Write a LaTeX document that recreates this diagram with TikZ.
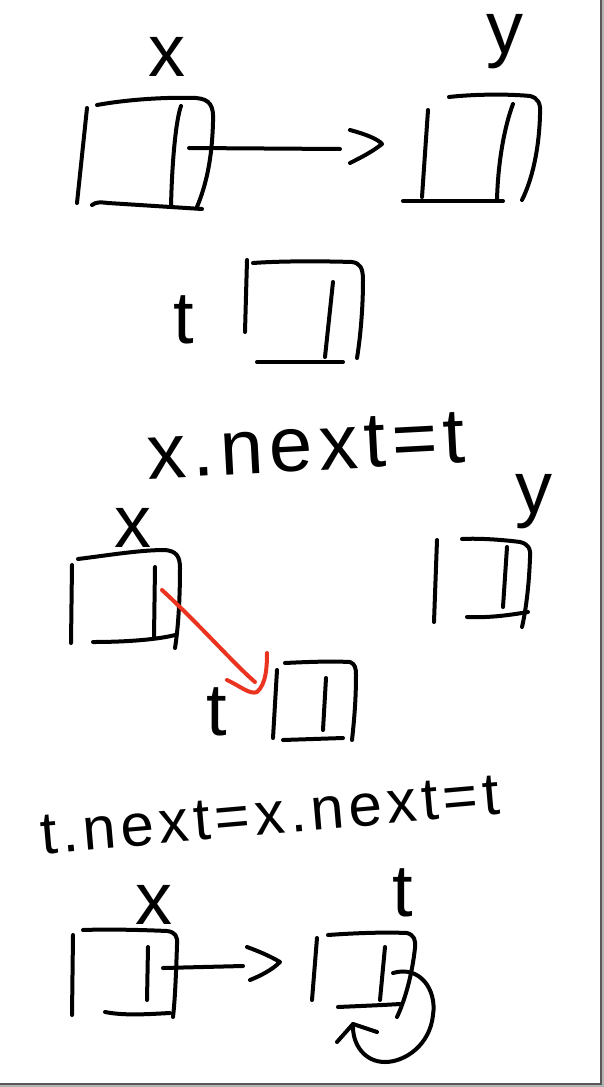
\documentclass[tikz,border=0pt]{standalone}
\usepackage{fontspec}
\setmainfont{Liberation Sans}
\definecolor{penred}{RGB}{234,52,32}
\begin{document}
\begin{tikzpicture}[x=1pt,y=-1pt,
  pen/.style={line width=4pt, line cap=round, line join=round, draw=black},
  redpen/.style={pen, draw=penred},
  lbl/.style={inner sep=0pt, font=\fontsize{74}{80}\selectfont},
  eqA/.style={inner sep=0pt, font=\fontsize{78}{84}\selectfont\addfontfeatures{LetterSpace=8}},
  eqB/.style={inner sep=0pt, font=\fontsize{60}{66}\selectfont\addfontfeatures{LetterSpace=8}}]
\useasboundingbox (0,0) rectangle (604,1087);
% page and shadow
\fill[white] (0,0) rectangle (600,1083);
\fill[black!30] (600,0) rectangle (604,1087);
\fill[black!30] (0,1083) rectangle (604,1087);
\draw[black!65, line width=1.5pt] (600.75,0) -- (600.75,1083.75) -- (0,1083.75);

% ---------- part 1 ----------
\node[lbl] (lx1) at (167,57) {x};
\draw[pen] (87,108) -- (77,203);
\draw[pen] (97,105) .. controls (130,99) and (170,97) .. (196,98) .. controls (210,99) and (214,106) .. (213,122) .. controls (212,160) and (206,185) .. (197,207);
\draw[pen] (92,205) .. controls (96,202) and (100,202) .. (108,203) -- (202,209);
\draw[pen] (181,106) .. controls (176,120) and (172,160) .. (171,207);

\coordinate (x1p) at (189,148);
\coordinate (x1e) at (340,149);
\coordinate (y1h) at (382,144);
\draw[pen] (x1p) -- (x1e);
\draw[pen] (350,130) .. controls (365,134) and (378,139) .. (y1h) .. controls (372,152) and (360,158) .. (350,163);

\node[lbl] (ly1) at (505,42) {y};
\draw[pen] (428,110) -- (422,197);
\draw[pen] (449,97) .. controls (475,94) and (510,94) .. (530,96) .. controls (538,98) and (541,103) .. (540,115) .. controls (539,150) and (532,180) .. (522,200);
\draw[pen] (403,201) -- (503,201);
\draw[pen] (513,104) .. controls (505,125) and (498,160) .. (497,200);

\node[lbl] (lt1) at (184,320) {t};
\draw[pen] (247,260) -- (245,332);
\draw[pen] (253,263) .. controls (280,261) and (320,261) .. (352,262) .. controls (360,263) and (363,268) .. (363,280) .. controls (363,310) and (360,340) .. (357,358);
\draw[pen] (257,362) -- (343,362);
\draw[pen] (333,282) -- (325,357);

\node[eqA, rotate=3] (eq1) at (306,446) {x.next=t};

% ---------- part 2 ----------
\node[lbl] (lx2) at (133,528) {x};
\draw[pen] (72,565) -- (71,643);
\draw[pen] (78,559) .. controls (110,555) and (140,550) .. (165,550) .. controls (176,551) and (180,556) .. (180,568) .. controls (180,600) and (178,630) .. (175,648);
\draw[pen] (93,642) .. controls (130,642) and (160,639) .. (175,635);
\draw[pen] (155,567) -- (154,637);

\coordinate (x2p) at (162,590);
\coordinate (t2h) at (257,692);
\draw[redpen] (x2p) .. controls (200,625) and (235,665) .. (255,682);
\draw[redpen] (227,680) .. controls (240,686) and (250,695) .. (t2h) .. controls (266,684) and (267,668) .. (267,653);

\node[lbl] (ly2) at (534,502) {y};
\draw[pen] (437,540) -- (434,622);
\draw[pen] (462,539) .. controls (480,538) and (505,540) .. (520,542) .. controls (528,544) and (531,548) .. (530,558) .. controls (529,585) and (526,610) .. (522,627);
\draw[pen] (467,617) .. controls (490,618) and (510,615) .. (528,612);
\draw[pen] (507,547) -- (503,607);

\node[lbl] (lt2) at (217,712) {t};
\draw[pen] (277,670) -- (273,738);
\draw[pen] (285,663) .. controls (305,662) and (330,661) .. (350,662) .. controls (355,664) and (356,668) .. (356,675) .. controls (356,700) and (354,722) .. (352,740);
\draw[pen] (283,740) -- (343,738);
\draw[pen] (326,678) -- (323,730);

\node[eqB, rotate=5] (eq2) at (270,815) {t.next=x.next=t};

% ---------- part 3 ----------
\node[lbl] (lx3) at (154,905) {x};
\draw[pen] (73,935) -- (72,1015);
\draw[pen] (83,930) .. controls (110,929) and (145,930) .. (167,931) .. controls (175,932) and (178,936) .. (177,945) .. controls (176,975) and (175,1000) .. (173,1017);
\draw[pen] (105,1012) .. controls (125,1016) and (150,1014) .. (170,1013);
\draw[pen] (148,947) -- (147,1000);

\coordinate (x3p) at (163,968);
\coordinate (x3e) at (243,966);
\coordinate (t3h) at (280,962);
\draw[pen] (x3p) -- (x3e);
\draw[pen] (247,947) .. controls (258,951) and (270,956) .. (t3h) .. controls (272,970) and (260,976) .. (250,980);

\node[lbl] (lt3) at (403,893) {t};
\draw[pen] (317,938) -- (312,1000);
\draw[pen] (328,935) .. controls (355,933) and (385,932) .. (407,933) .. controls (414,935) and (416,940) .. (415,948) .. controls (412,975) and (405,1000) .. (397,1017);
\draw[pen] (338,1007) .. controls (360,1006) and (385,1005) .. (400,1004);
\draw[pen] (385,947) -- (380,1000);

\coordinate (t3p) at (393,973);
\coordinate (t3q) at (353,1024);
\draw[pen] (t3p) .. controls (420,965) and (437,990) .. (433,1015) .. controls (430,1045) and (405,1062) .. (385,1062) .. controls (365,1062) and (352,1045) .. (t3q);
\draw[pen] (337,1042) -- (t3q) -- (377,1032);
\end{tikzpicture}
\end{document}
